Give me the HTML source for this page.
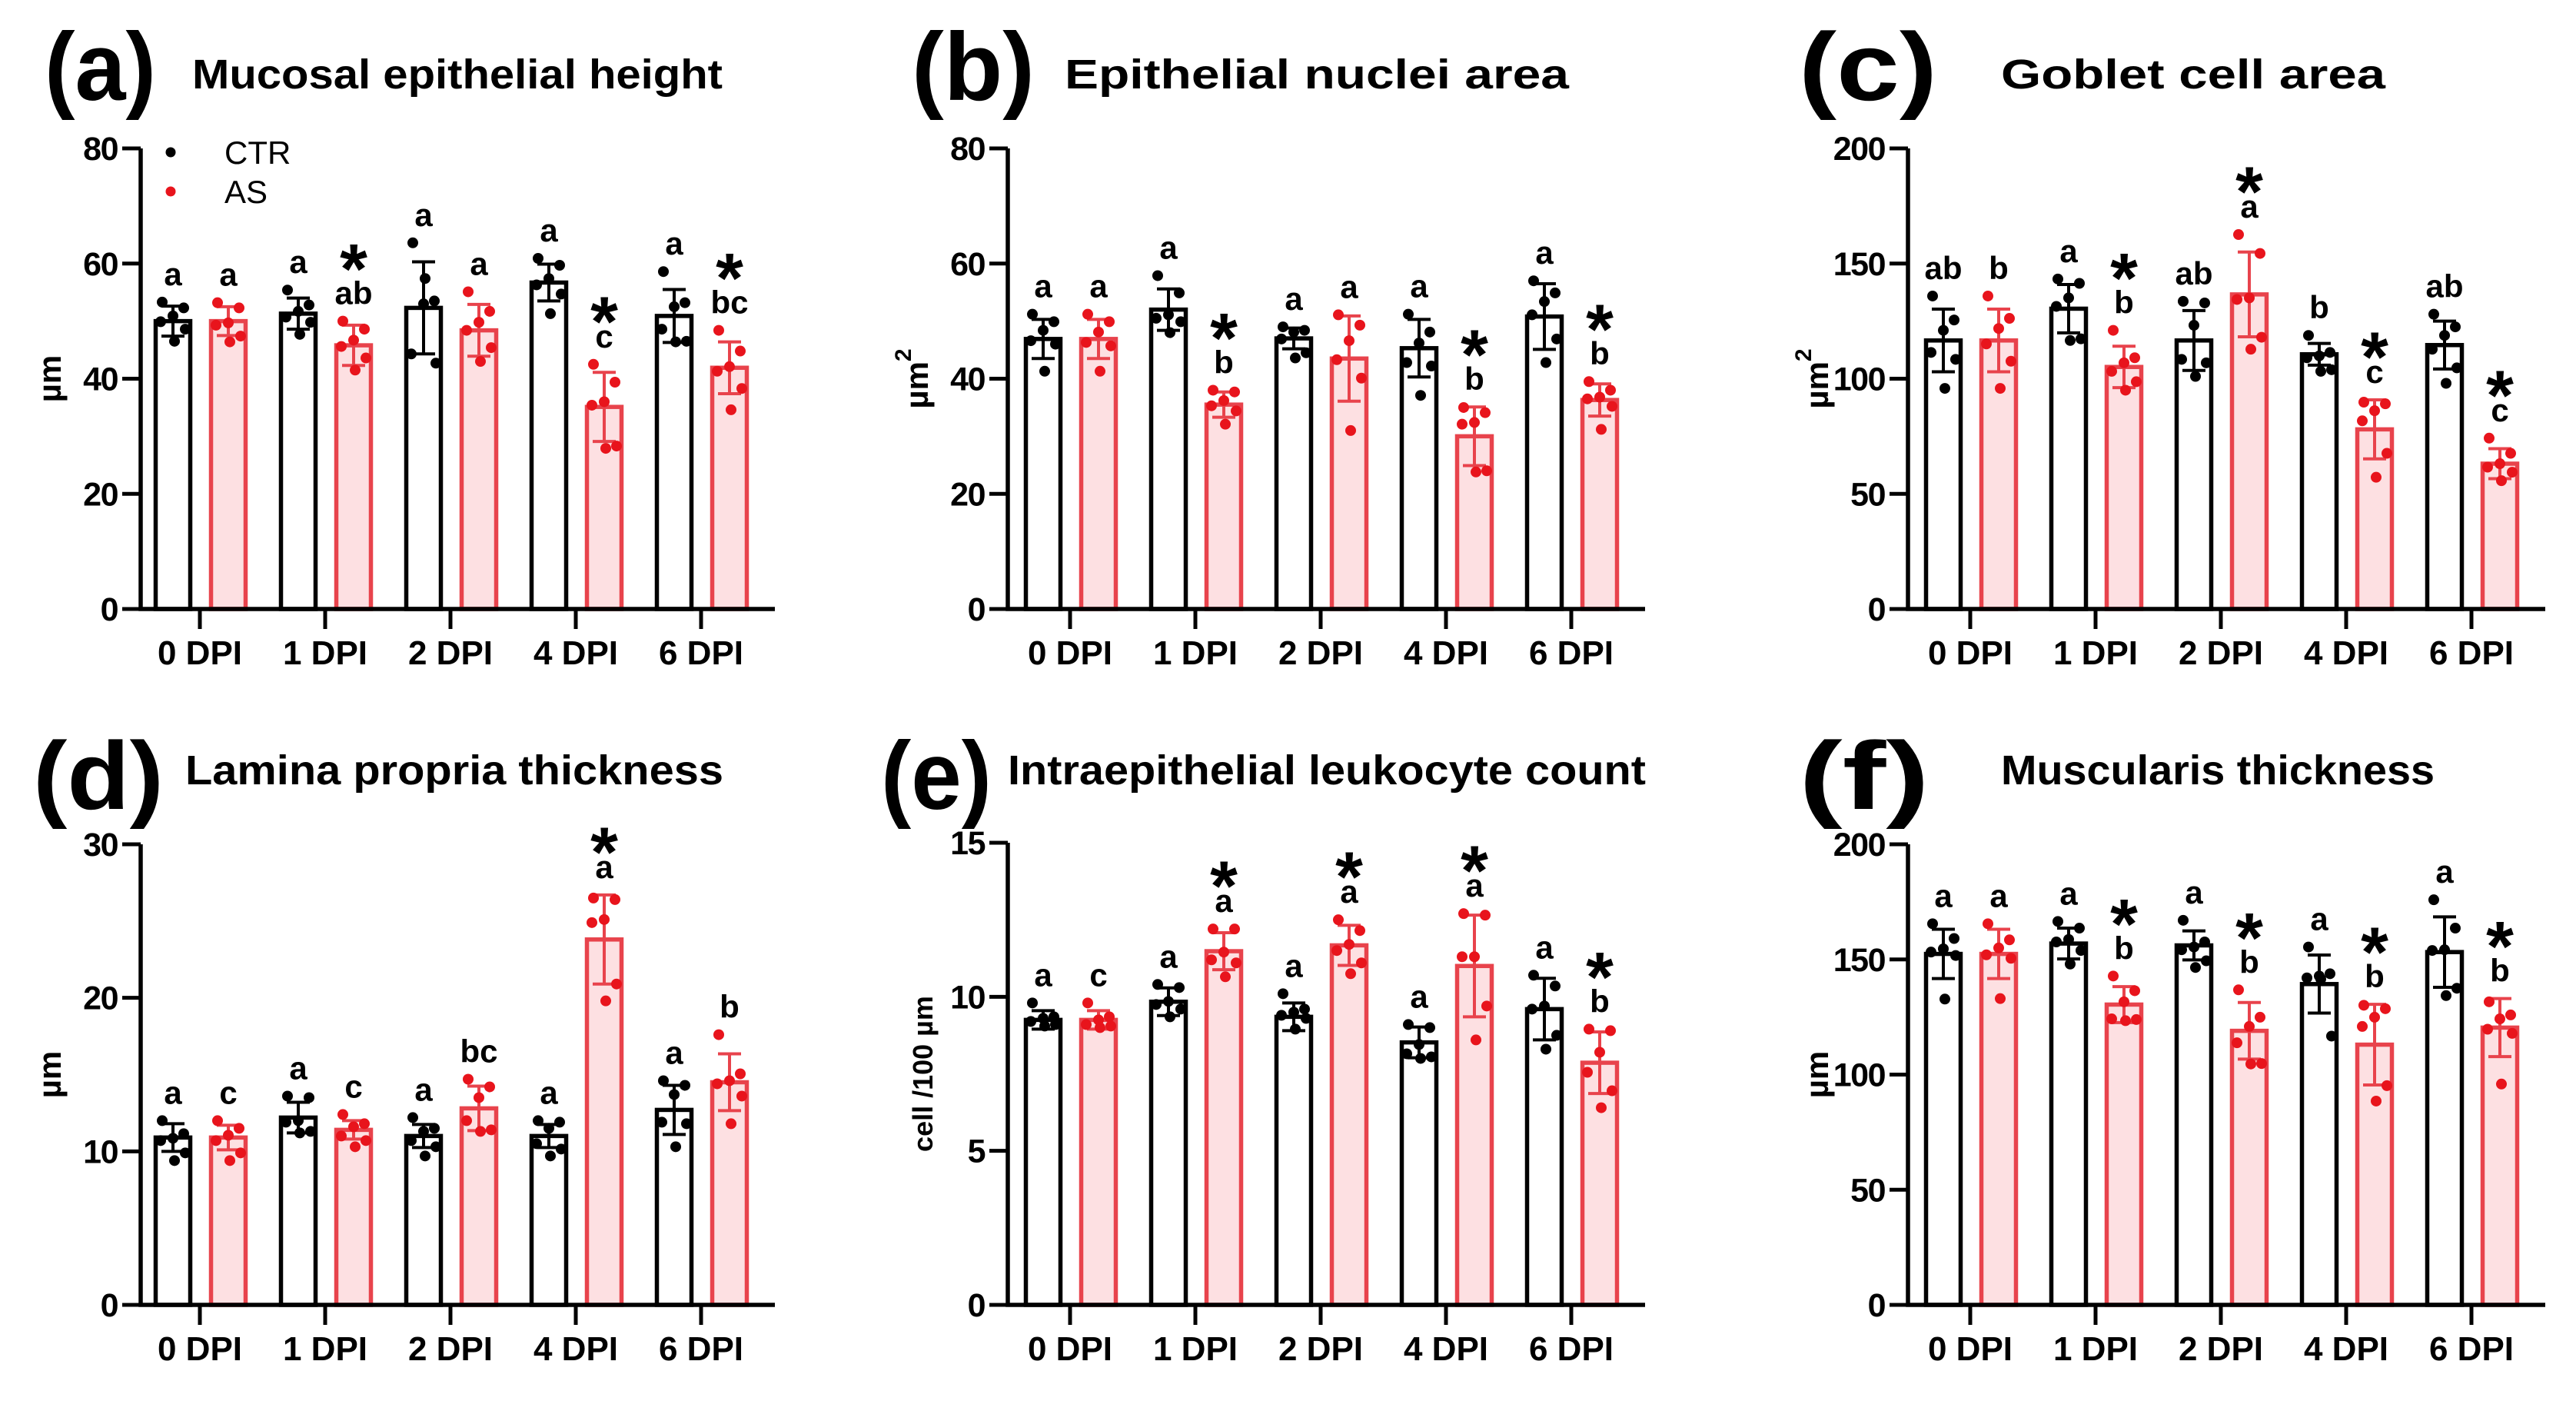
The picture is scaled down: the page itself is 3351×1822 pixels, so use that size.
<!DOCTYPE html>
<html><head><meta charset="utf-8"><style>
html,body{margin:0;padding:0;background:#fff;}
svg{display:block;font-family:"Liberation Sans",Arial,sans-serif;}
</style></head><body>
<svg id="fig" width="3351" height="1822" viewBox="0 0 3351 1822" xmlns="http://www.w3.org/2000/svg"></svg>
<script>
const categories = ["0 DPI","1 DPI","2 DPI","4 DPI","6 DPI"];
// (a) Mucosal epithelial height
const a_ctrMean=[50.0,51.3,52.3,56.7,50.9], a_ctrSD=[2.6,2.7,8.0,3.2,4.6];
const a_asMean=[50.0,45.8,48.4,35.1,41.9], a_asSD=[2.5,3.5,4.5,6.0,4.5];
const a_ctrDots=[[53.3,52.3,50.9,49.9,48.6,46.5],[55.4,52.8,51.7,50.7,49.8,47.7],[63.6,53.5,53.0,44.3,42.7,57.4],[60.9,59.7,57.4,56.3,54.7,51.3],[58.6,53.2,52.5,48.6,46.5,46.4]];
const a_asDots=[[53.2,52.3,49.7,49.3,47.4,46.4],[50.0,48.6,46.7,45.6,43.6,41.5],[55.1,51.7,49.8,48.4,45.4,43.0],[42.5,39.4,36.0,35.4,28.3,27.9],[48.4,44.8,42.1,41.3,38.3,34.6]];
const a_ctrLet=["a","a","a","a","a"], a_asLet=["a","ab","a","c","bc"], a_star=[0,1,0,1,1];
const a_ticks=[0,20,40,60,80];
// (b) Epithelial nuclei area
const b_ctrMean=[46.9,52.0,47.0,45.3,50.8], b_ctrSD=[3.4,3.6,1.8,5.0,5.7];
const b_asMean=[46.9,35.5,43.5,30.0,36.3], b_asSD=[3.4,2.2,7.4,5.1,2.8];
const b_ctrDots=[[51.2,49.9,48.4,46.6,46.0,41.3],[57.9,54.9,51.1,50.5,49.9,48.0],[49.0,48.4,48.1,46.9,44.5,43.6],[51.2,48.1,46.2,42.8,42.2,37.1],[57.0,54.9,53.4,51.1,46.9,42.8]];
const b_asDots=[[51.2,49.9,48.1,46.3,45.7,41.3],[38.0,37.7,36.2,35.3,34.4,32.1],[51.1,49.3,46.6,43.3,40.1,31.0],[35.0,34.1,32.4,32.1,24.0,23.8],[39.5,38.0,36.8,36.5,35.2,31.2]];
const b_ctrLet=["a","a","a","a","a"], b_asLet=["a","b","a","b","b"], b_star=[0,1,0,1,1];
const b_ticks=[0,20,40,60,80];
// (c) Goblet cell area
const c_ctrMean=[116.6,130.4,116.6,110.6,114.6], c_ctrSD=[13.6,10.5,13.0,4.7,10.4];
const c_asMean=[116.6,105.1,136.6,78.0,63.1], c_asSD=[13.6,9.0,18.4,12.8,6.5];
const c_ctrDots=[[135.9,125.5,121.0,111.4,108.4,95.8],[143.3,141.4,135.1,131.4,117.3,116.6],[133.6,132.9,123.2,108.4,106.9,101.0],[118.8,111.4,109.9,109.1,103.9,103.2],[128.0,122.5,118.8,112.8,104.7,98.0]];
const c_asDots=[[135.9,126.2,121.8,115.1,107.6,95.8],[121.0,109.1,106.9,103.2,98.7,95.0],[162.6,154.4,135.1,134.4,118.0,112.8],[89.8,89.1,86.1,81.7,67.6,57.2],[74.2,67.6,63.1,61.6,59.4,55.7]];
const c_ctrLet=["ab","a","ab","b","ab"], c_asLet=["b","b","a","c","c"], c_star=[0,1,1,1,1];
const c_ticks=[0,50,100,150,200];
// (d) Lamina propria thickness
const d_ctrMean=[10.9,12.2,11.0,11.0,12.7], d_ctrSD=[0.9,1.0,0.75,0.75,1.6];
const d_asMean=[10.9,11.4,12.8,23.8,14.5], d_asSD=[0.8,0.6,1.45,2.9,1.85];
const d_ctrDots=[[12.0,11.15,10.85,10.7,9.9,9.4],[13.6,13.5,12.0,11.9,11.3,11.2],[12.2,11.5,11.3,10.7,10.3,9.7],[12.0,11.9,11.5,10.5,10.15,9.7],[14.6,14.3,13.7,11.9,11.8,10.3]];
const d_asDots=[[12.0,11.5,11.05,10.7,9.9,9.4],[12.4,11.8,11.6,11.0,10.7,10.3],[14.7,14.2,13.5,12.0,11.4,11.3],[26.5,26.4,25.1,24.9,20.9,19.8],[17.6,15.05,14.6,14.4,13.6,11.8]];
const d_ctrLet=["a","a","a","a","a"], d_asLet=["c","c","bc","a","b"], d_star=[0,0,0,1,0];
const d_ticks=[0,10,20,30];
// (e) Intraepithelial leukocyte count
const e_ctrMean=[9.25,9.84,9.35,8.52,9.6], e_ctrSD=[0.3,0.45,0.45,0.5,1.0];
const e_asMean=[9.25,11.48,11.67,11.0,7.86], e_asSD=[0.3,0.6,0.65,1.65,1.0];
const e_ctrDots=[[9.8,9.35,9.3,9.2,9.1,9.05],[10.4,10.3,9.85,9.75,9.6,9.35],[10.1,9.6,9.5,9.4,9.3,8.95],[9.1,9.0,8.45,8.15,8.05,8.0],[10.7,10.35,9.7,9.6,8.75,8.3]];
const e_asDots=[[9.8,9.35,9.25,9.1,9.05,9.0],[12.2,12.2,11.45,11.2,11.1,10.65],[12.5,12.15,11.7,11.5,11.1,10.75],[12.7,12.65,11.3,11.3,9.7,8.6],[8.95,8.9,8.2,7.55,6.95,6.4]];
const e_ctrLet=["a","a","a","a","a"], e_asLet=["c","a","a","a","b"], e_star=[0,1,1,1,1];
const e_ticks=[0,5,10,15];
// (f) Muscularis thickness
const f_ctrMean=[152.4,156.9,156.1,139.3,153.2], f_ctrSD=[10.7,6.7,6.3,12.6,15.3];
const f_asMean=[152.4,130.4,119.0,113.0,120.4], f_asSD=[10.7,7.8,12.3,17.5,12.6];
const f_ctrDots=[[165.5,159.1,154.6,153.2,151.7,132.8],[166.5,163.6,158.7,157.6,153.9,148.0],[167.0,157.6,155.4,154.2,149.4,146.5],[155.4,143.8,142.8,142.0,116.7,141.5],[175.9,163.6,154.2,153.9,137.5,134.3]];
const f_asDots=[[165.5,158.5,155.0,152.0,150.5,133.0],[142.8,136.4,131.6,124.2,123.9,123.4],[136.8,124.9,120.9,113.8,104.8,104.6],[130.1,128.6,124.9,120.9,95.2,88.5],[131.6,125.9,124.2,119.7,117.9,95.9]];
const f_ctrLet=["a","a","a","a","a"], f_asLet=["a","b","b","b","b"], f_star=[0,1,1,1,1];
const f_ticks=[0,50,100,150,200];

const panels=[
 {id:"a",letter:"(a)",title:"Mucosal epithelial height",ax:183,t0:260,top:193,bot:792,ymax:80,ticks:a_ticks,ylab:"µm",sup:false,cm:a_ctrMean,cs:a_ctrSD,am:a_asMean,as:a_asSD,cd:a_ctrDots,ad:a_asDots,cl:a_ctrLet,al:a_asLet,st:a_star,lx:58,lw:145,tx:250,tw:690,legend:true},
 {id:"b",letter:"(b)",title:"Epithelial nuclei area",ax:1311,t0:1392,top:193,bot:792,ymax:80,ticks:b_ticks,ylab:"µm",sup:true,cm:b_ctrMean,cs:b_ctrSD,am:b_asMean,as:b_asSD,cd:b_ctrDots,ad:b_asDots,cl:b_ctrLet,al:b_asLet,st:b_star,lx:1186,lw:160,tx:1385,tw:656},
 {id:"c",letter:"(c)",title:"Goblet cell area",ax:2482,t0:2563,top:193,bot:792,ymax:200,ticks:c_ticks,ylab:"µm",sup:true,cm:c_ctrMean,cs:c_ctrSD,am:c_asMean,as:c_asSD,cd:c_ctrDots,ad:c_asDots,cl:c_ctrLet,al:c_asLet,st:c_star,lx:2340,lw:180,tx:2603,tw:500},
 {id:"d",letter:"(d)",title:"Lamina propria thickness",ax:183,t0:260,top:1098,bot:1697,ymax:30,ticks:d_ticks,ylab:"µm",sup:false,cm:d_ctrMean,cs:d_ctrSD,am:d_asMean,as:d_asSD,cd:d_ctrDots,ad:d_asDots,cl:d_ctrLet,al:d_asLet,st:d_star,lx:43,lw:170,tx:241,tw:700},
 {id:"e",letter:"(e)",title:"Intraepithelial leukocyte count",ax:1311,t0:1392,top:1096,bot:1697,ymax:15,ticks:e_ticks,ylab:"cell /100 µm",sup:false,small:true,cm:e_ctrMean,cs:e_ctrSD,am:e_asMean,as:e_asSD,cd:e_ctrDots,ad:e_asDots,cl:e_ctrLet,al:e_asLet,st:e_star,lx:1146,lw:144,tx:1311,tw:830},
 {id:"f",letter:"(f)",title:"Muscularis thickness",ax:2482,t0:2563,top:1098,bot:1697,ymax:200,ticks:f_ticks,ylab:"µm",sup:false,cm:f_ctrMean,cs:f_ctrSD,am:f_asMean,as:f_asSD,cd:f_ctrDots,ad:f_asDots,cl:f_ctrLet,al:f_asLet,st:f_star,lx:2340,lw:170,tx:2603,tw:564}
];
const NS="http://www.w3.org/2000/svg";
const svg=document.getElementById("fig");
function mk(tag,attrs,parent,txt){const e=document.createElementNS(NS,tag);for(const k in attrs)e.setAttribute(k,attrs[k]);if(txt!==undefined)e.textContent=txt;(parent||svg).appendChild(e);return e;}
const RED="#e8141c", REDS="#e8434c", PINK="#fde0e2";
const jit=[-14,14,0,-16,16,2];
const SP=163;
panels.forEach(p=>{
  const g=mk("g",{});
  
  
  const y=v=>p.bot-(v/p.ymax)*(p.bot-p.top);
  const isTop=p.top<500;
  const tbase=isTop?115:1020;
  const pl=mk("text",{x:p.lx,y:isTop?130:1052,"font-size":125,"font-weight":"bold",textLength:p.lw,lengthAdjust:"spacingAndGlyphs"},g,p.letter);
  
  
  const tt=mk("text",{x:p.tx,y:tbase,"font-size":54,"font-weight":"bold",textLength:p.tw,lengthAdjust:"spacingAndGlyphs"},g,p.title);
  
  
  const xend=p.t0+4*SP+96;
  p.ticks.forEach(t=>{
    const yy=y(t);
    const tk=mk("line",{x1:p.ax-24,x2:p.ax,y1:yy,y2:yy,stroke:"#000","stroke-width":5},g);
    
    
    const tl=mk("text",{x:p.ax-30,y:yy+15,"font-size":43,"font-weight":"bold","text-anchor":"end","letter-spacing":-1.5},g,String(t));
    
    
  });
  const cy=(p.top+p.bot)/2, cx=p.ax-(p.small?112:118);
  const yt=mk("text",{x:cx,y:cy,"font-size":p.small?36:42,"font-weight":"bold","text-anchor":"middle",transform:`rotate(-90 ${cx} ${cy})`,dy:14},g,p.ylab);
  if(p.sup){mk("tspan",{dy:-22,"font-size":30},yt,"2");}
  
  
  categories.forEach((c,i)=>{
    const tx=p.t0+i*SP;
    [[0,p.cm,p.cs,p.cd,p.cl],[1,p.am,p.as,p.ad,p.al]].forEach(([isAS,mean,sd,dots,lets])=>{
      const cxb=tx+(isAS?37:-35);
      const col=isAS?REDS:"#000";
      const r=mk("rect",{x:cxb-22.5,y:y(mean[i]),width:45,height:p.bot-y(mean[i]),fill:isAS?PINK:"#fff",stroke:col,"stroke-width":5.5},g);
      
      
      const e1=y(mean[i]+sd[i]), e2=y(mean[i]-sd[i]);
      const eb=mk("path",{d:`M${cxb},${e1}V${e2}M${cxb-15},${e1}H${cxb+15}M${cxb-15},${e2}H${cxb+15}`,stroke:col,"stroke-width":4,fill:"none"},g);
      
      
      dots[i].forEach((v,k)=>{
        const d=mk("circle",{cx:cxb+jit[k],cy:y(v),r:7,fill:isAS?RED:"#000"},g);
        
        
      });
      const topY=Math.min(e1,y(Math.max(...dots[i])))-22;
      const lt=mk("text",{x:cxb,y:topY,"font-size":42,"font-weight":"bold","text-anchor":"middle"},g,lets[i]);
      
      
      if(isAS&&p.st[i]){
        const asc=/[bd]/.test(lets[i]);
        const s=mk("text",{x:cxb,y:topY-(asc?14:2),"font-size":92,"font-weight":"bold","text-anchor":"middle"},g,"*");
        
        
      }
    });
    const xt=mk("line",{x1:tx,x2:tx,y1:p.bot,y2:p.bot+26,stroke:"#000","stroke-width":5},g);
    
    
    const xl=mk("text",{x:tx,y:p.bot+72,"font-size":44,"font-weight":"bold","text-anchor":"middle"},g,c);
    
    
  });
  const axp=mk("path",{d:`M${p.ax},${p.top}V${p.bot}H${xend}`,stroke:"#000","stroke-width":5.5,fill:"none"},g);
  
  
  if(p.legend){
    const lg=mk("g",{},g);
    
    
    mk("circle",{cx:222,cy:198,r:6.5,fill:"#000"},lg);
    mk("text",{x:292,y:213,"font-size":42},lg,"CTR");
    mk("circle",{cx:222,cy:249,r:6.5,fill:RED},lg);
    mk("text",{x:292,y:264,"font-size":42},lg,"AS");
  }
});
</script>
</body></html>
